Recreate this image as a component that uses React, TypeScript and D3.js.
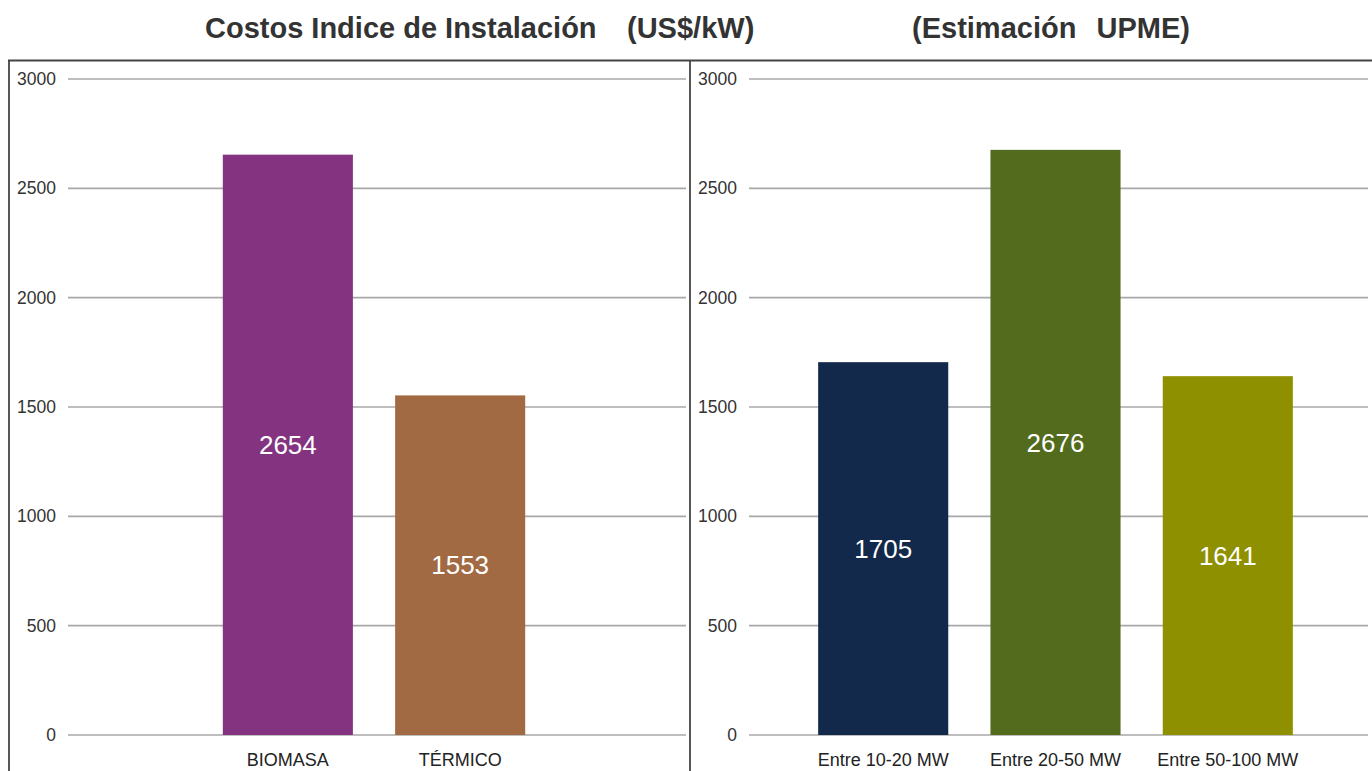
import * as d3 from "d3";

// values
const leftCategories = ["BIOMASA", "TÉRMICO"];
const leftValues = [2654, 1553];
const leftColors = ["#843381", "#a16a43"];

const rightCategories = ["Entre 10-20 MW", "Entre 20-50 MW", "Entre 50-100 MW"];
const rightValues = [1705, 2676, 1641];
const rightColors = ["#13294b", "#536b1d", "#8f9000"];

const yTicks = [0, 500, 1000, 1500, 2000, 2500, 3000];

const W = 1372;
const H = 771;
const FONT = "'Liberation Sans', Arial, sans-serif";

function Panel({x0, x1, cats, values, colors}) {
    const y = d3.scaleLinear().domain([0, 3000]).range([735, 79]);
    const gx0 = x0 + 59; // start of grid lines
    const gx1 = Math.min(x1, W) - 4;
    const cx = (gx0 + gx1) / 2 - 3;
    const step = 172.3;
    const x = d3.scaleBand()
        .domain(cats)
        .range([cx - (cats.length * step) / 2, cx + (cats.length * step) / 2])
        .paddingInner(0.245)
        .paddingOuter(0.1225);

    return (
        <g>
            {yTicks.map(t => (
                <g key={t}>
                    <line x1={gx0} x2={gx1} y1={y(t)} y2={y(t)} stroke="#a8a8a8" strokeWidth={1.6} />
                    <text x={x0 + 47} y={y(t)} dy="0.35em" textAnchor="end"
                          fontSize={17.5} fill="#333" fontFamily={FONT}>{t}</text>
                </g>
            ))}
            {cats.map((c, i) => (
                <g key={c}>
                    <rect x={x(c)} y={y(values[i])} width={x.bandwidth()} height={y(0) - y(values[i])}
                          fill={colors[i]} />
                    <text x={x(c) + x.bandwidth() / 2} y={(y(values[i]) + y(0)) / 2} dy="0.35em"
                          textAnchor="middle" fontSize={26} fill="#fff" fontFamily={FONT}>{values[i]}</text>
                    <text x={x(c) + x.bandwidth() / 2} y={760} dy="0.35em" textAnchor="middle"
                          fontSize={18} fill="#222" fontFamily={FONT}>{c}</text>
                </g>
            ))}
        </g>
    );
}

export default function App() {
    const titleStyle = {fontSize: 29, fontWeight: "bold", fill: "#333", fontFamily: FONT};
    return (
        <svg width={W} height={H} style={{position: "absolute", left: 0, top: 0, background: "#fff"}}>
            <rect x={0} y={0} width={W} height={H} fill="#fff" />
            <text x={205} y={28} dy="0.35em" style={titleStyle}>Costos Indice de Instalación</text>
            <text x={627} y={28} dy="0.35em" style={titleStyle}>(US$/kW)</text>
            <text x={912} y={28} dy="0.35em" style={titleStyle}>(Estimación</text>
            <text x={1190} y={28} dy="0.35em" textAnchor="end" style={titleStyle}>UPME)</text>

            <Panel x0={9} x1={690} cats={leftCategories} values={leftValues} colors={leftColors} />
            <Panel x0={690} x1={1372} cats={rightCategories} values={rightValues} colors={rightColors} />

            {/* panel frames */}
            <line x1={8} x2={W} y1={60.5} y2={60.5} stroke="#444" strokeWidth={1.8} />
            <line x1={9} x2={9} y1={60} y2={H} stroke="#444" strokeWidth={1.8} />
            <line x1={690} x2={690} y1={60} y2={H} stroke="#444" strokeWidth={1.8} />
        </svg>
    );
}
